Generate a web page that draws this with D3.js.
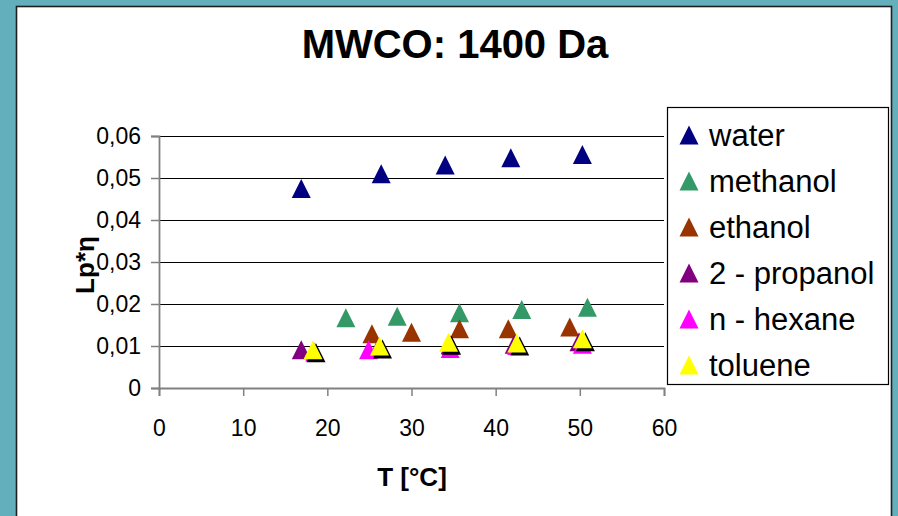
<!DOCTYPE html>
<html>
<head>
<meta charset="utf-8">
<script src="https://cdn.jsdelivr.net/npm/d3@7"></script>
<style>
  body { margin: 0; background: #63b0bc; }
  svg { display: block; font-family: Arial, 'Liberation Sans', sans-serif; }
</style>
</head>
<body>
<div id="chart"></div>
<script>
// data
var seriesNames = ['water', 'methanol', 'ethanol', '2 - propanol', 'n - hexane', 'toluene']
var seriesColors = ['#000080', '#339966', '#993300', '#800080', '#ff00ff', '#ffff00']

var waterT = [16.9, 26.4, 34.0, 41.8, 50.3]
var waterLp = [0.0475, 0.0510, 0.0531, 0.0548, 0.0556]
var methanolT = [22.2, 28.3, 35.7, 43.1, 50.9]
var methanolLp = [0.0167, 0.0171, 0.0179, 0.0187, 0.0192]
var ethanolT = [25.3, 30.0, 35.7, 41.5, 48.8]
var ethanolLp = [0.0129, 0.0133, 0.0141, 0.0141, 0.0145]
var propanolT = [16.9, 26.0, 34.6, 42.2, 49.9]
var propanolLp = [0.0091, 0.0094, 0.0103, 0.0104, 0.0110]
var hexaneT = [18.5, 24.9, 34.6, 42.5, 50.3]
var hexaneLp = [0.0086, 0.0091, 0.0094, 0.0101, 0.0104]
var tolueneT = [18.3, 26.2, 34.4, 42.5, 50.3]
var tolueneLp = [0.0091, 0.0100, 0.0109, 0.0107, 0.0117]

var xTicks = [0, 10, 20, 30, 40, 50, 60]
var yTicks = [0, 0.01, 0.02, 0.03, 0.04, 0.05, 0.06]
var yTickLabels = ['0', '0,01', '0,02', '0,03', '0,04', '0,05', '0,06']

var allT = [waterT, methanolT, ethanolT, propanolT, hexaneT, tolueneT]
var allLp = [waterLp, methanolLp, ethanolLp, propanolLp, hexaneLp, tolueneLp]

var width = 898
var height = 516
var plot = { left: 159, right: 664, top: 136, bottom: 388 }

var svg = d3.select('#chart')
  .append('svg')
  .attr('width', width)
  .attr('height', height)

// white slide panel
svg.append('rect')
  .attr('x', 16.5)
  .attr('y', 6.5)
  .attr('width', 875)
  .attr('height', 530)
  .attr('fill', '#fff')
  .attr('stroke', '#1e1e1e')
  .attr('stroke-width', 1.6)

var xScale = d3.scaleLinear().domain([0, 60]).range([plot.left, plot.right])
var yScale = d3.scaleLinear().domain([0, 0.06]).range([plot.bottom, plot.top])

// gridlines
svg.append('g')
  .attr('transform', 'translate(' + plot.left + ',0)')
  .call(d3.axisLeft(yScale).tickValues(yTicks.slice(1)).tickSize(-(plot.right - plot.left)).tickFormat(''))
  .call(g => g.select('.domain').remove())
  .call(g => g.selectAll('line').attr('stroke', '#000').attr('stroke-width', 1.2))

var yAxis = d3.axisLeft(yScale)
  .tickValues(yTicks)
  .tickSize(8)
  .tickPadding(10)
  .tickFormat(function(d, i) { return yTickLabels[i] })
svg.append('g')
  .attr('class', 'axis y-axis')
  .attr('transform', 'translate(' + plot.left + ',0)')
  .call(yAxis)

var xAxis = d3.axisBottom(xScale)
  .tickValues(xTicks)
  .tickSize(8)
  .tickPadding(24)
svg.append('g')
  .attr('class', 'axis x-axis')
  .attr('transform', 'translate(0,' + plot.bottom + ')')
  .call(xAxis)

svg.selectAll('.axis .domain').attr('stroke', '#808080').attr('stroke-width', 1.8)
svg.selectAll('.axis .tick line').attr('stroke', '#808080').attr('stroke-width', 1.5)
svg.selectAll('.axis text')
  .attr('font-size', '23px')
  .attr('font-family', 'Arial, Liberation Sans, sans-serif')
  .attr('fill', '#000')

// triangle marker
function tri(s) {
  var h = s / 2
  return 'M0,' + (-h) + 'L' + h + ',' + h + 'L' + (-h) + ',' + h + 'Z'
}

seriesNames.forEach(function(name, i) {
  var pts = allT[i].map(function(t, j) { return { t: t, lp: allLp[i][j] } })
  var g = svg.append('g').attr('class', 'series')
  if (name === 'toluene') {
    // dark drop shadow behind the toluene markers
    g.selectAll('.shadow')
      .data(pts)
      .enter()
      .append('path')
      .attr('d', tri(19))
      .attr('transform', function(d) {
        return 'translate(' + (xScale(d.t) + 3) + ',' + (yScale(d.lp) + 3) + ')'
      })
      .attr('fill', '#000')
  }
  g.selectAll('.mark')
    .data(pts)
    .enter()
    .append('path')
    .attr('d', tri(19))
    .attr('transform', function(d) {
      return 'translate(' + xScale(d.t) + ',' + yScale(d.lp) + ')'
    })
    .attr('fill', seriesColors[i])
})

// title
svg.append('text')
  .text('MWCO: 1400 Da')
  .attr('x', 455)
  .attr('y', 58)
  .attr('text-anchor', 'middle')
  .attr('font-size', '40px')
  .style('font-weight', 'bold')

svg.append('text')
  .text('T [°C]')
  .attr('x', 412)
  .attr('y', 486)
  .attr('text-anchor', 'middle')
  .attr('font-size', '26px')
  .style('font-weight', 'bold')

svg.append('text')
  .text('Lp*η')
  .attr('transform', 'translate(94,265) rotate(-90)')
  .attr('text-anchor', 'middle')
  .attr('font-size', '26px')
  .style('font-weight', 'bold')

// legend
var legend = svg.append('g').attr('class', 'legend')
legend.append('rect')
  .attr('x', 667.5)
  .attr('y', 107.5)
  .attr('width', 221)
  .attr('height', 277)
  .attr('fill', '#fff')
  .attr('stroke', '#000')
  .attr('stroke-width', 1.2)

var items = legend.selectAll('.item')
  .data(seriesNames)
  .enter()
  .append('g')
  .attr('class', 'item')
  .attr('transform', function(d, i) { return 'translate(689,' + (135 + i * 46) + ')' })

items.append('path')
  .attr('d', tri(19))
  .attr('fill', function(d, i) { return seriesColors[i] })

items.append('text')
  .text(function(d) { return d })
  .attr('x', 20)
  .attr('y', 11)
  .attr('font-size', '31px')
</script>
</body>
</html>
